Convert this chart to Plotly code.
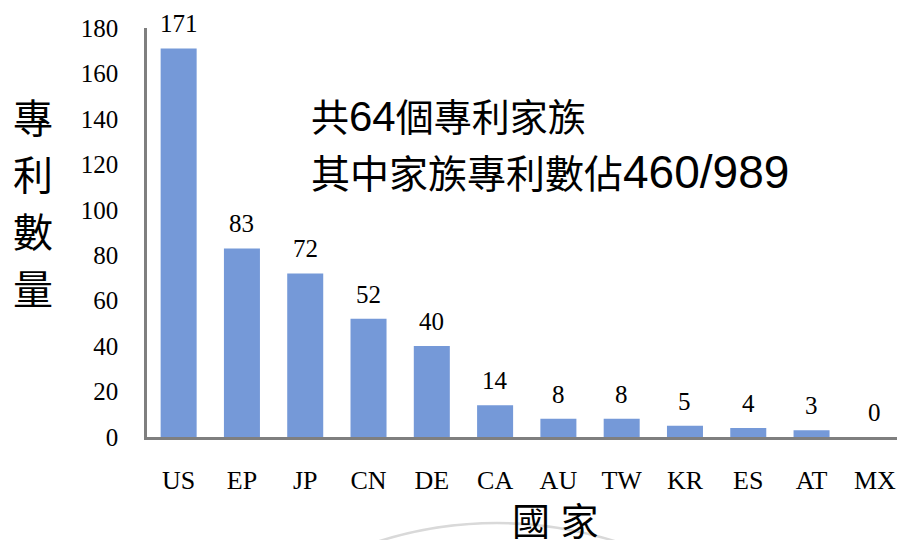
import plotly.graph_objects as go

# Patent counts by filing country
countries = ["US", "EP", "JP", "CN", "DE", "CA", "AU", "TW", "KR", "ES", "AT", "MX"]
patent_counts = [171, 83, 72, 52, 40, 14, 8, 8, 5, 4, 3, 0]
y_ticks = [0, 20, 40, 60, 80, 100, 120, 140, 160, 180]

y_title = "專利數量"
x_title = "國 家"
note_line1 = ("共", "64", "個專利家族")
note_line2 = ("其中家族專利數佔", "460/989")

W, H = 897, 540
ML, MR, MT, MB = 147, 0, 28, 103
PW, PH = W - ML - MR, H - MT - MB

SERIF = "Times New Roman, Liberation Serif, serif"
CJK = "Liberation Sans, Arial, Noto Sans CJK TC, sans-serif"
BAR_COLOR = "#7599d8"
AXIS_COLOR = "#7f7f7f"


def px_x(px):
    return (px - ML) / PW


def px_y(py):
    return (H - MB - py) / PH


fig = go.Figure(
    go.Bar(
        x=countries,
        y=patent_counts,
        marker=dict(color=BAR_COLOR, line=dict(width=0)),
        hoverinfo="x+y",
    )
)

annotations = []
# value labels above each bar
for c, v in zip(countries, patent_counts):
    annotations.append(dict(
        x=c, y=v, xref="x", yref="y", text=str(v), showarrow=False,
        yanchor="bottom", yshift=9,
        font=dict(family=SERIF, size=25, color="black"),
    ))

# vertical y-axis title, one character per row
for i, ch in enumerate(y_title):
    annotations.append(dict(
        x=px_x(33), y=px_y(119 + 57 * i), xref="paper", yref="paper",
        text=ch, showarrow=False, xanchor="center", yanchor="middle",
        font=dict(family=CJK, size=40, color="black"),
    ))

# x-axis title
annotations.append(dict(
    x=px_x(555), y=px_y(522), xref="paper", yref="paper",
    text=x_title, showarrow=False, xanchor="center", yanchor="middle",
    font=dict(family=CJK, size=38, color="black"),
))

# summary note
line1 = (f"<span style='font-size:38px'>{note_line1[0]}</span>"
         f"<span style='font-size:42px'>{note_line1[1]}</span>"
         f"<span style='font-size:38px'>{note_line1[2]}</span>")
line2 = (f"<span style='font-size:39px'>{note_line2[0]}</span>"
         f"<span style='font-size:46px'>{note_line2[1]}</span>")
for txt, yc in ((line1, 116), (line2, 172)):
    annotations.append(dict(
        x=px_x(309), y=px_y(yc), xref="paper", yref="paper",
        text=txt, showarrow=False, xanchor="left", yanchor="middle",
        font=dict(family=CJK, size=38, color="black"),
    ))

# faint circular arc near the bottom of the page
cx, cy, r = 497, 914, 391
shapes = [dict(
    type="circle", xref="paper", yref="paper",
    x0=px_x(cx - r), x1=px_x(cx + r), y0=px_y(cy + r), y1=px_y(cy - r),
    line=dict(color="#d9d9d9", width=2.5), fillcolor="rgba(0,0,0,0)",
    layer="below",
)]

fig.update_layout(
    width=W, height=H,
    margin=dict(l=ML, r=MR, t=MT, b=MB, pad=0),
    paper_bgcolor="white", plot_bgcolor="white",
    bargap=0.431,
    showlegend=False,
    annotations=annotations,
    shapes=shapes,
    xaxis=dict(
        type="category", range=[-0.5, 11.35],
        showline=True, linecolor=AXIS_COLOR, linewidth=2.5,
        showgrid=False, zeroline=False, ticks="",
        tickfont=dict(family=SERIF, size=26, color="black"),
        ticklabelstandoff=18,
    ),
    yaxis=dict(
        range=[0, 180], tickvals=y_ticks,
        showline=True, linecolor=AXIS_COLOR, linewidth=2.5,
        showgrid=False, zeroline=False, ticks="",
        tickfont=dict(family=SERIF, size=25, color="black"),
        ticklabelstandoff=21,
    ),
)

fig.write_html("out.html")
